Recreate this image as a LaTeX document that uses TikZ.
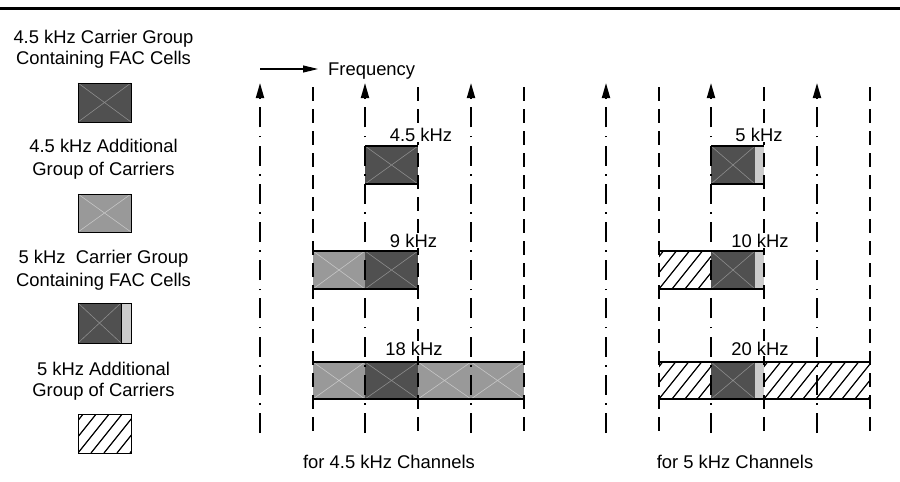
\documentclass[tikz,border=0pt]{standalone}
\usepackage{fontspec}
\setmainfont{Liberation Sans}
\usetikzlibrary{arrows.meta}
\definecolor{cdark}{HTML}{505050}
\definecolor{clight}{HTML}{999999}
\definecolor{cstrip}{HTML}{CCCCCC}
\definecolor{xondark}{HTML}{8C8C8C}
\definecolor{xonlight}{HTML}{C6C6C6}
\newcommand\fsz{\fontsize{18.4}{22}\selectfont}
% cell with X: x1,x2,ytop,ybot,fillcolor,xcolor
\newcommand\xcell[6]{%
  \fill[#5] (#1,#3) rectangle (#2,#4);
  \draw[#6,line width=0.6pt] (#1,#3) -- (#2,#4) (#1,#4) -- (#2,#3);}
% hatched cell: x1,x2,ytop,ybot
\newcommand\hatchcell[4]{%
  \begin{scope}
    \clip (#1,#3) rectangle (#2,#4);
    \foreach \h in {-4,...,10} {\draw[hatchline] ({#1+13*\h},#4) -- ++(32,-40);}
  \end{scope}}
\tikzset{
  lbl/.style={font=\fsz, inner sep=0pt, anchor=base},
  bandlbl/.style={lbl, fill=white, inner xsep=1.5pt, inner ysep=1pt},
  dashdotline/.style={line width=1.8pt, dash pattern=on 20pt off 8.3pt on 1.6pt off 8.3pt},
  dashline/.style={line width=1.8pt, dash pattern=on 14pt off 8pt},
  bandline/.style={line width=2.5pt},
  legbox/.style={draw=black, line width=0.9pt},
  hatchline/.style={line width=1.2pt, black},
}
\begin{document}
\begin{tikzpicture}[x=1pt,y=-1pt]
\useasboundingbox (0,0) rectangle (900,482);
% top rule
\coordinate (rl) at (0,8.5);
\coordinate (rr) at (900,8.5);
\draw[line width=3.5pt] (rl) -- (rr);

% ---------- legend ----------
\node[lbl] (l1a) at (103.5,43) {4.5 kHz Carrier Group};
\node[lbl] (l1b) at (103.5,64.3) {Containing FAC Cells};
\xcell{78}{131}{83}{122}{cdark}{xondark}
\draw[legbox] (78,83) rectangle (131,122);

\node[lbl] (l2a) at (103.5,152.7) {4.5 kHz Additional};
\node[lbl] (l2b) at (103.5,175.7) {Group of Carriers};
\xcell{78}{131}{194}{232}{clight}{xonlight}
\draw[legbox] (78,194) rectangle (131,232);

\node[lbl] (l3a) at (103.5,263.3) {5 kHz\ \ Carrier Group};
\node[lbl] (l3b) at (103.5,286) {Containing FAC Cells};
\xcell{78}{121}{303}{343}{cdark}{xondark}
\fill[cstrip] (121,303) rectangle (131,343);
\draw[legbox] (78,303) rectangle (131,343);
\draw[line width=0.9pt] (121,303) -- (121,343);

\node[lbl] (l4a) at (103.5,375) {5 kHz Additional};
\node[lbl] (l4b) at (103.5,396.7) {Group of Carriers};
\hatchcell{78}{131}{414}{453}
\draw[legbox] (78,414) rectangle (131,453);

% ---------- frequency arrow ----------
\coordinate (f0) at (260,69);
\coordinate (f1) at (318,69);
\draw[line width=1.1pt,-{Triangle[length=15pt,width=7pt]}] (f0) -- (f1);
\node[lbl, anchor=base west] (freq) at (328,75.5) {Frequency};

% ---------- band fills ----------
% 4.5 kHz
\xcell{365}{418}{146}{184}{cdark}{xondark}
\xcell{313}{365}{251}{289}{clight}{xonlight}
\xcell{365}{418}{251}{289}{cdark}{xondark}
\xcell{313}{365}{362}{399}{clight}{xonlight}
\xcell{365}{418}{362}{399}{cdark}{xondark}
\xcell{418}{471}{362}{399}{clight}{xonlight}
\xcell{471}{524}{362}{399}{clight}{xonlight}
% 5 kHz
\xcell{711}{755}{146}{184}{cdark}{xondark}
\fill[cstrip] (755,146) rectangle (764,184);
\hatchcell{659}{711}{251}{289}
\xcell{711}{755}{251}{289}{cdark}{xondark}
\fill[cstrip] (755,251) rectangle (764,289);
\hatchcell{659}{711}{362}{399}
\xcell{711}{755}{362}{399}{cdark}{xondark}
\fill[cstrip] (755,362) rectangle (764,399);
\hatchcell{764}{870}{362}{399}

% ---------- vertical channel lines ----------
\foreach \x/\n in {260/a1,365/a3,471/a5,606/b1,711/b3,817/b5} {
  \coordinate (\n t) at (\x,83);
  \coordinate (\n b) at (\x,433);
  \draw[dashdotline,-{Triangle[length=15pt,width=8pt]}] (\n b) -- (\n t);
}
\foreach \x/\n in {313/a2,418/a4,524/a6,659/b2,764/b4,870/b6} {
  \coordinate (\n t) at (\x,87);
  \coordinate (\n b) at (\x,433);
  \draw[dashline] (\n t) -- (\n b);
}

% ---------- band borders ----------
\draw[bandline] (365,146) -- (418,146) (365,184) -- (418,184);
\draw[bandline] (313,251) -- (418,251) (313,289) -- (418,289);
\draw[bandline] (313,362) -- (524,362) (313,399) -- (524,399);
\draw[bandline] (711,146) -- (764,146) (711,184) -- (764,184);
\draw[bandline] (659,251) -- (764,251) (659,289) -- (764,289);
\draw[bandline] (659,362) -- (870,362) (659,399) -- (870,399);

% ---------- band labels ----------
\node[bandlbl] (k45) at (421,141) {4.5 kHz};
\node[bandlbl] (k9) at (413.5,247) {9 kHz};
\node[bandlbl] (k18) at (414,355) {18 kHz};
\node[bandlbl] (k5) at (759,141) {5 kHz};
\node[bandlbl] (k10) at (760,247) {10 kHz};
\node[bandlbl] (k20) at (760,355) {20 kHz};

% ---------- captions ----------
\node[lbl] (capa) at (389,468) {for 4.5 kHz Channels};
\node[lbl] (capb) at (735,468) {for 5 kHz Channels};
\end{tikzpicture}
\end{document}
